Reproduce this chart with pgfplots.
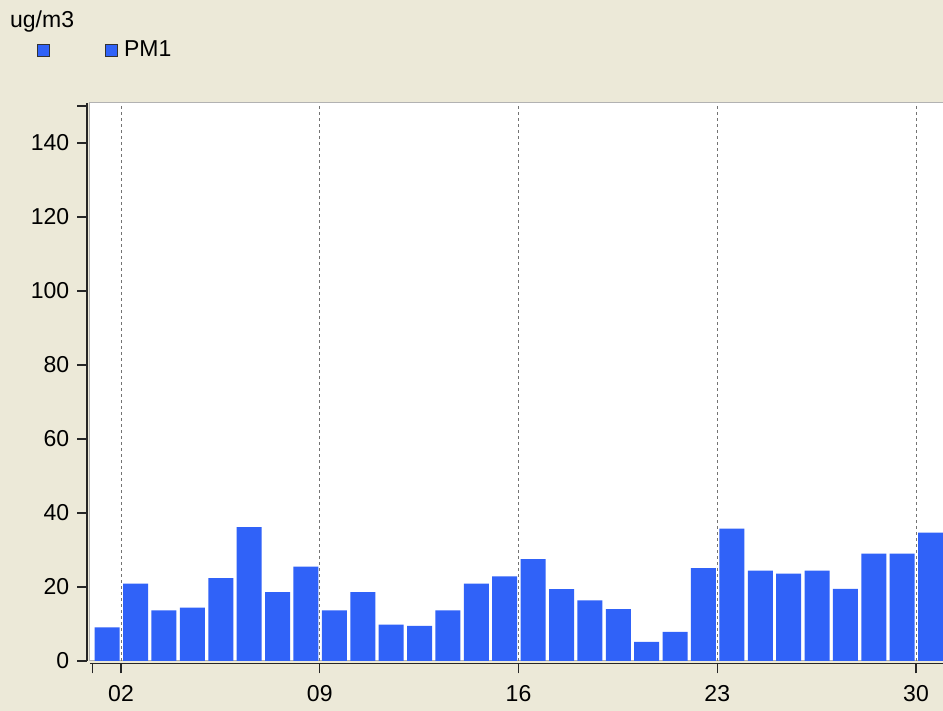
\documentclass[border=0pt]{standalone}
\usepackage{fontspec}
\setmainfont{Liberation Sans}
\usepackage{pgfplots}
\pgfplotsset{compat=1.18}
\definecolor{bg}{HTML}{ECE9D8}
\definecolor{barblue}{RGB}{48,98,248}
\begin{document}
\fontsize{23}{27}\selectfont
\begin{tikzpicture}[x=1pt,y=1pt]
\fill[bg] (0,0) rectangle (943,711);
\useasboundingbox (0,0) rectangle (943,711);
\begin{axis}[
  at={(90pt,50pt)}, anchor=south west,
  width=861.5pt, height=558pt, scale only axis,
  xmin=0.908, xmax=31.25, ymin=0, ymax=150.8,
  axis x line=bottom, axis y line=left,
  axis x line shift=2.5pt, axis y line shift=3pt,
  axis line style={-, black!85, line width=1.5pt},
  axis background/.style={fill=white, draw=black!30, line width=1pt},
  xtick={2,9,16,23,30}, xticklabels={02,09,16,23,30},
  extra x ticks={1}, extra x tick labels={}, extra x tick style={grid=none},
  ytick={0,20,...,140}, extra y ticks={150}, extra y tick labels={},
  xmajorgrids, grid style={dash pattern=on 3pt off 3pt, black!55, line width=1pt},
  tick align=outside, major tick length=10pt,
  tick style={black!85, line width=1.2pt},
  tick label style={font=\fontsize{23}{27}\selectfont},
  xticklabel style={yshift=-4pt},
  /pgf/number format/assume math mode=true,
  ylabel={ug/m3},
  ylabel style={rotate=-90, at={(axis description cs:-0.0929,1.1344)}, anchor=base west, inner sep=0pt, font=\fontsize{23}{27}\selectfont},
  legend style={at={(axis description cs:-0.0615,1.0941)}, anchor=west, draw=none, fill=none, inner sep=0pt, outer sep=0pt,
    legend columns=-1, font=\fontsize{23}{27}\selectfont, nodes={inner sep=0pt},
    /tikz/every odd column/.style={column sep=6pt},
    /tikz/every even column/.style={column sep=48pt}},
]
\addlegendimage{legend image code/.code={\draw[fill=barblue, draw=black!80, line width=1pt] (0pt,-6pt) rectangle (12pt,6pt);}}
\addlegendentry{}
\addplot[ybar, bar width=25pt, bar shift=14.6pt, fill=barblue, draw=none,
  legend image code/.code={\draw[fill=barblue, draw=black!80, line width=1pt] (0pt,-6pt) rectangle (12pt,6pt);}]
  coordinates {
  (1,9.1) (2,20.9) (3,13.7) (4,14.4) (5,22.4) (6,36.2) (7,18.6) (8,25.5)
  (9,13.7) (10,18.6) (11,9.8) (12,9.5) (13,13.7) (14,20.9) (15,22.9)
  (16,27.5) (17,19.4) (18,16.4) (19,14.0) (20,5.2) (21,7.9) (22,25.1)
  (23,35.8) (24,24.4) (25,23.6) (26,24.4) (27,19.5) (28,29.0) (29,29.0) (30,34.7)
  };
\addlegendentry{PM1}
\end{axis}
\end{tikzpicture}
\end{document}
